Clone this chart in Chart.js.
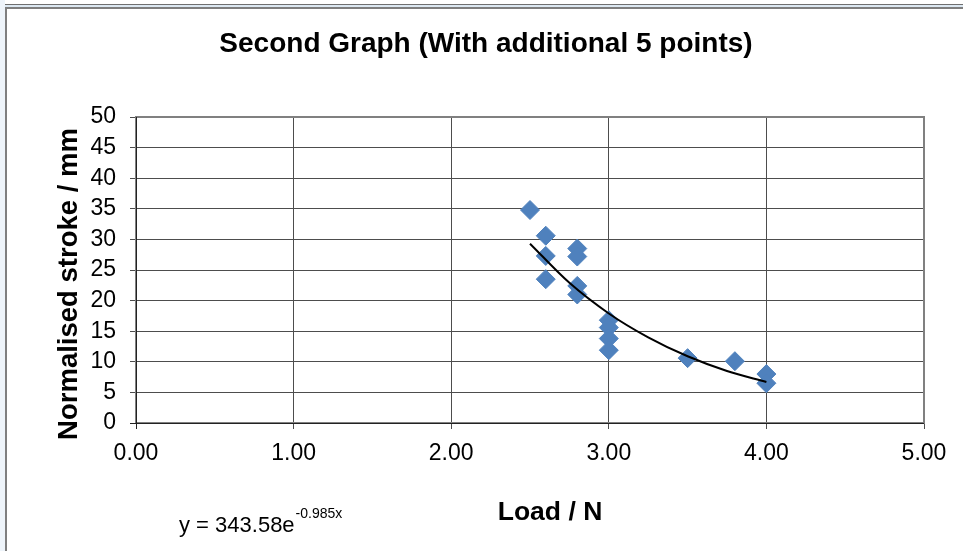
<!DOCTYPE html>
<html>
<head>
<meta charset="utf-8">
<script src="https://cdn.jsdelivr.net/npm/chart.js@4"></script>
<style>
  html, body { margin:0; padding:0; width:963px; height:551px; overflow:hidden; background:#fff; }
  #strip { position:absolute; left:0; top:0; width:5px; height:551px; background:#eef4fa; }
  #topline { position:absolute; left:5px; top:4px; width:958px; height:1px; background:#6f6f6f; }
  #topline2 { position:absolute; left:5px; top:5px; width:958px; height:2px; background:#dce8f2; }
  #frame { position:absolute; left:5px; top:7px; width:980px; height:570px; border:2px solid #7f7f7f; box-sizing:border-box; background:#fff; }
  #wrap { position:absolute; left:7px; top:9px; width:956px; height:542px; }
</style>
</head>
<body>
<div id="strip"></div>
<div id="topline"></div>
<div id="topline2"></div>
<div id="frame"></div>
<div id="wrap"><canvas id="c"></canvas></div>
<script>
const chartTitle = "Second Graph (With additional 5 points)";
const xTitle = "Load / N";
const yTitle = "Normalised stroke / mm";
const equationMain = "y = 343.58e";
const equationSup = "-0.985x";

const loadN     = [2.5, 2.6, 2.6, 2.6, 2.8, 2.8, 2.8, 2.8, 3.0, 3.0, 3.0, 3.0, 3.5, 3.8, 4.0, 4.0];
const strokeMm  = [34.8, 30.6, 27.3, 23.5, 28.5, 27.2, 22.4, 21.0, 16.8, 15.6, 13.8, 11.9, 10.6, 10.1, 8.0, 6.5];

const trendX = [2.5, 2.75, 3.0, 3.25, 3.5, 3.75, 4.0];
const trendY = [29.3, 22.9, 17.9, 14.0, 10.9, 8.5, 6.7];

const xTicks = [0, 1, 2, 3, 4, 5];
const yTicks = [0, 5, 10, 15, 20, 25, 30, 35, 40, 45, 50];

const FONT = "'Liberation Sans', Arial, sans-serif";

const textPlugin = {
  id: 'texts',
  afterDraw(chart) {
    const ctx = chart.ctx;
    const a = chart.chartArea;
    ctx.save();
    // plot border
    ctx.strokeStyle = '#808080';
    ctx.lineWidth = 2;
    ctx.strokeRect(a.left, a.top, a.right - a.left, a.bottom - a.top);
    ctx.strokeStyle = '#222';
    ctx.lineWidth = 1;
    ctx.beginPath();
    ctx.moveTo(a.left + 0.5, a.top); ctx.lineTo(a.left + 0.5, a.bottom + 6);
    ctx.moveTo(a.left - 6, a.bottom + 0.5); ctx.lineTo(a.right, a.bottom + 0.5);
    ctx.stroke();

    ctx.fillStyle = '#000';
    ctx.textBaseline = 'middle';
    // title
    ctx.font = "bold 28px " + FONT;
    ctx.textAlign = 'center';
    ctx.fillText(chartTitle, 479, 35);
    // x title
    ctx.font = "bold 26.5px " + FONT;
    ctx.fillText(xTitle, 543, 504);
    // y title
    ctx.save();
    ctx.translate(62, 275);
    ctx.rotate(-Math.PI / 2);
    ctx.font = "bold 27.5px " + FONT;
    ctx.fillText(yTitle, 0, 0);
    ctx.restore();
    // equation
    ctx.textAlign = 'left';
    ctx.textBaseline = 'alphabetic';
    ctx.font = "22px " + FONT;
    ctx.fillText(equationMain, 172, 523);
    const w = ctx.measureText(equationMain).width;
    ctx.font = "14px " + FONT;
    ctx.fillText(equationSup, 172 + w + 1, 509);
    ctx.restore();
  }
};

new Chart(document.getElementById('c'), {
  type: 'scatter',
  data: {
    datasets: [
      {
        label: 'trend',
        type: 'line',
        data: trendX.map((x, i) => ({ x: x, y: trendY[i] })),
        borderColor: '#000',
        borderWidth: 2,
        pointRadius: 0,
        cubicInterpolationMode: 'monotone',
        fill: false,
        order: 0
      },
      {
        label: 'data',
        data: loadN.map((x, i) => ({ x: x, y: strokeMm[i] })),
        pointStyle: 'rectRot',
        pointRadius: 9.5,
        pointHoverRadius: 9.5,
        backgroundColor: '#4F81BD',
        borderColor: '#4F81BD',
        borderWidth: 1,
        order: 1
      }
    ]
  },
  options: {
    responsive: true,
    maintainAspectRatio: false,
    animation: false,
    events: [],
    layout: { padding: { top: 108, right: 39, left: 0, bottom: 0 } },
    plugins: { legend: { display: false }, title: { display: false }, tooltip: { enabled: false } },
    scales: {
      x: {
        type: 'linear',
        min: 0, max: 5,
        afterFit(s) { s.height = 128; },
        afterBuildTicks(s) { s.ticks = xTicks.map(v => ({ value: v })); },
        ticks: {
          color: '#000',
          font: { family: FONT, size: 23 },
          padding: 11,
          maxRotation: 0,
          autoSkip: false,
          callback: v => Number(v).toFixed(2)
        },
        grid: { color: '#4d4d4d', lineWidth: 1, tickLength: 6, drawTicks: true },
        border: { display: false }
      },
      y: {
        type: 'linear',
        min: 0, max: 50,
        afterFit(s) { s.width = 129; },
        afterBuildTicks(s) { s.ticks = yTicks.map(v => ({ value: v })); },
        ticks: {
          color: '#000',
          font: { family: FONT, size: 23 },
          padding: 14,
          autoSkip: false
        },
        grid: { color: '#4d4d4d', lineWidth: 1, tickLength: 6, drawTicks: true },
        border: { display: false }
      }
    }
  },
  plugins: [textPlugin]
});
</script>
</body>
</html>
